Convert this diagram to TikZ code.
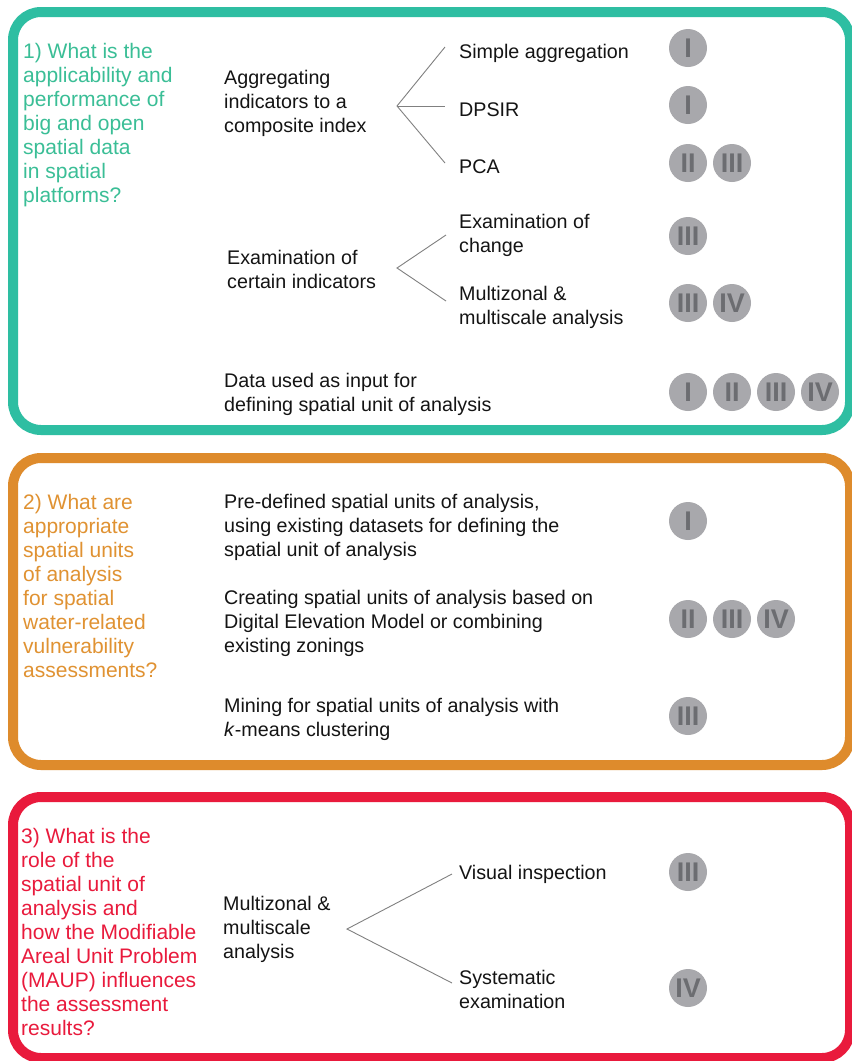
\documentclass[tikz,border=0pt]{standalone}
\usepackage{fontspec}
\setmainfont{Liberation Sans}
\definecolor{cteal}{RGB}{46,190,162}
\definecolor{ctealtext}{RGB}{58,190,150}
\definecolor{corange}{RGB}{222,139,44}
\definecolor{corangetext}{RGB}{224,146,50}
\definecolor{cred}{RGB}{233,26,60}
\definecolor{bfill}{RGB}{168,168,172}
\definecolor{btext}{RGB}{108,109,113}
\definecolor{branchgray}{RGB}{128,128,128}
\definecolor{bodytext}{RGB}{20,20,20}
\begin{document}
\begin{tikzpicture}[x=1pt,y=-1pt,
  txt/.style={anchor=west, inner sep=0pt, yshift=-2pt, align=left, font=\fontsize{19.7}{24}\selectfont, text=bodytext},
  question/.style={txt, font=\fontsize{21}{24}\selectfont},
  frame/.style={line width=10pt, rounded corners=28pt},
  badge/.style={circle, fill=bfill, minimum size=38pt, inner sep=0pt, text=btext, font=\fontsize{27}{27}\selectfont\bfseries},
  branch/.style={draw=branchgray, line width=0.9pt}]
\useasboundingbox (0,0) rectangle (852,1061);
\clip (0,0) rectangle (852,1061);
\fill[white] (0,0) rectangle (852,1061);

% ---------- frames ----------
\draw[frame, draw=cteal] (13,12) rectangle (850,430);
\draw[frame, draw=corange] (13,458) rectangle (850,765);
\draw[frame, draw=cred] (13,797) rectangle (850,1058);

% ---------- box 1 ----------
\node[question, text=ctealtext] (q1) at (23,123) {1) What is the\\applicability and\\performance of\\big and open\\spatial data\\in spatial\\platforms?};

\node[txt] (agg) at (224,101) {Aggregating\\indicators to a\\composite index};
\coordinate (v1) at (397,106);
\coordinate (e1a) at (445,47);
\coordinate (e1b) at (445,106);
\coordinate (e1c) at (445,163);
\draw[branch] (e1a) -- (v1) -- (e1c);
\draw[branch] (v1) -- (e1b);
\node[txt] (sa) at (459,51) {Simple aggregation};
\node[txt] (dpsir) at (459,108) {DPSIR};
\node[txt] (pca) at (459,165) {PCA};

\node[txt] (eci) at (227,267) {Examination of\\certain indicators};
\coordinate (v2) at (397,268);
\coordinate (e2a) at (446,235);
\coordinate (e2b) at (446,301);
\draw[branch] (e2a) -- (v2) -- (e2b);
\node[txt] (eoc) at (459,233) {Examination of\\change};
\node[txt] (mma) at (459,305) {Multizonal \&\\multiscale analysis};

\node[txt] (data) at (224,392) {Data used as input for\\defining spatial unit of analysis};

\node[badge] (b1) at (688,48) {I};
\node[badge] (b2) at (688,105) {I};
\node[badge] (b3a) at (688,163) {II};
\node[badge] (b3b) at (732,163) {III};
\node[badge] (b4) at (688,236) {III};
\node[badge] (b5a) at (688,303) {III};
\node[badge] (b5b) at (732,303) {IV};
\node[badge] (b6a) at (688,392) {I};
\node[badge] (b6b) at (732,392) {II};
\node[badge] (b6c) at (776,392) {III};
\node[badge] (b6d) at (820,392) {IV};

% ---------- box 2 ----------
\node[question, text=corangetext] (q2) at (23,584) {2) What are\\appropriate\\spatial units\\of analysis\\for spatial\\water-related\\vulnerability\\assessments?};

\node[txt] (pre) at (224,525) {Pre-defined spatial units of analysis,\\using existing datasets for defining the\\spatial unit of analysis};
\node[txt] (cre) at (224,621) {Creating spatial units of analysis based on\\Digital Elevation Model or combining\\existing zonings};
\node[txt] (min) at (224,717) {Mining for spatial units of analysis with\\\textit{k}-means clustering};

\node[badge] (c1) at (688,521) {I};
\node[badge] (c2a) at (688,619) {II};
\node[badge] (c2b) at (732,619) {III};
\node[badge] (c2c) at (776,619) {IV};
\node[badge] (c3) at (688,716) {III};

% ---------- box 3 ----------
\node[question, text=cred] (q3) at (21,930) {3) What is the\\role of the\\spatial unit of\\analysis and\\how the Modifiable\\Areal Unit Problem\\(MAUP) influences\\the assessment\\results?};

\node[txt] (mm3) at (223,927) {Multizonal \&\\multiscale\\analysis};
\coordinate (v3) at (347,929);
\coordinate (e3a) at (452,874);
\coordinate (e3b) at (452,983);
\draw[branch] (e3a) -- (v3) -- (e3b);
\node[txt] (vis) at (459,872) {Visual inspection};
\node[txt] (sys) at (459,987) {Systematic\\examination};

\node[badge] (d1) at (688,872) {III};
\node[badge] (d2) at (688,988) {IV};
\end{tikzpicture}
\end{document}
